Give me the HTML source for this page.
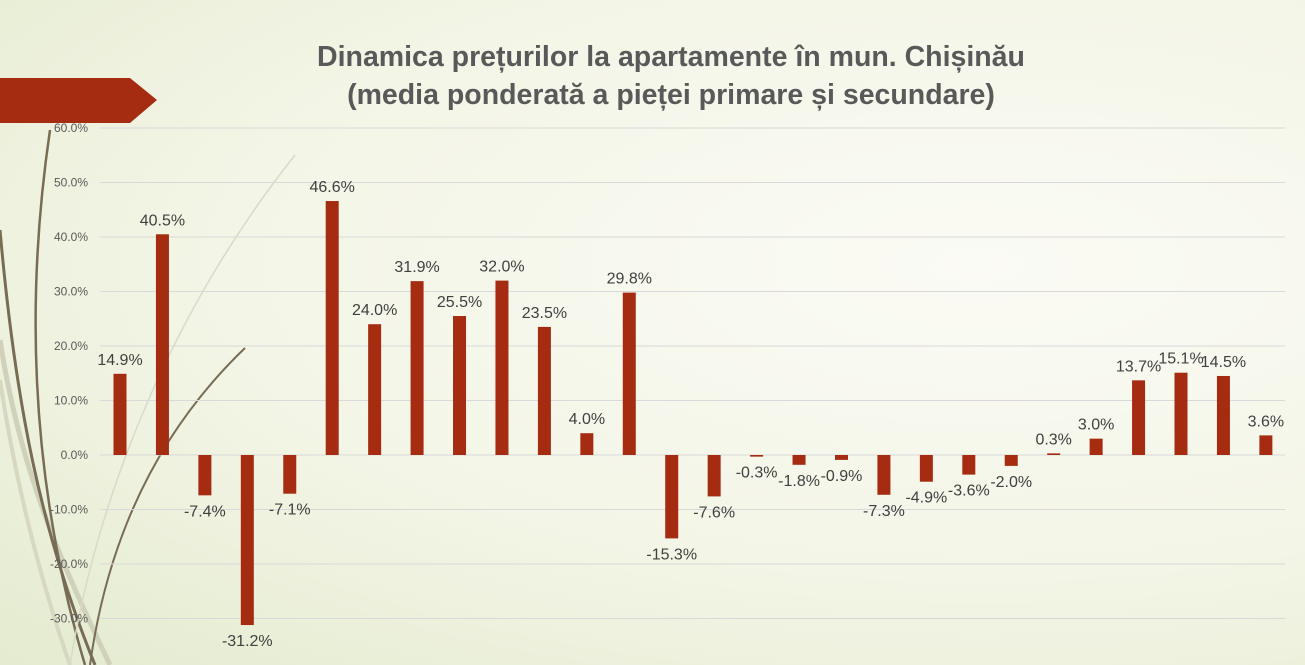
<!DOCTYPE html>
<html><head><meta charset="utf-8">
<style>
body{margin:0;width:1305px;height:665px;overflow:hidden;font-family:"Liberation Sans",sans-serif;}
#bg{position:absolute;left:0;top:0;width:1305px;height:665px;background:radial-gradient(ellipse at 75% 40%,#fbfbf5 0%,#f3f5e6 55%,#e4ebcf 100%);}
</style></head><body>
<div id="bg"></div>
<svg id="chart" width="1305" height="665" style="position:absolute;left:0;top:0">
<g fill="none">
<path d="M0,340 C20,470 60,560 110,665" stroke="#cfd1b8" stroke-width="5"/>
<path d="M0,380 C15,480 40,580 70,665" stroke="#d6d8c0" stroke-width="4"/>
<path d="M50,130 C25,300 30,480 85,665" stroke="#786c55" stroke-width="2.5"/>
<path d="M0,230 C15,400 40,530 95,665" stroke="#786c55" stroke-width="3"/>
<path d="M90,665 C110,520 170,420 245,348" stroke="#786c55" stroke-width="2"/>
<path d="M70,665 C100,480 180,300 295,155" stroke="#d9dac8" stroke-width="1.5"/>
</g>
<polygon points="0,78 130,78 157,100 130,123 0,123" fill="#a52c11"/>
<text x="671" y="66" text-anchor="middle" font-size="28.5" font-weight="bold" fill="#595959">Dinamica prețurilor la apartamente în mun. Chișinău</text>
<text x="671" y="104" text-anchor="middle" font-size="28.5" font-weight="bold" fill="#595959">(media ponderată a pieței primare și secundare)</text>
<g id="grid"></g><g id="bars"></g>
</svg>
<script>
const categories=["P1","P2","P3","P4","P5","P6","P7","P8","P9","P10","P11","P12","P13","P14","P15","P16","P17","P18","P19","P20","P21","P22","P23","P24","P25","P26","P27","P28"];
const values=[14.9,40.5,-7.4,-31.2,-7.1,46.6,24.0,31.9,25.5,32.0,23.5,4.0,29.8,-15.3,-7.6,-0.3,-1.8,-0.9,-7.3,-4.9,-3.6,-2.0,0.3,3.0,13.7,15.1,14.5,3.6];
const ticks=[60,50,40,30,20,10,0,-10,-20,-30];
const NS="http://www.w3.org/2000/svg";
const y=v=>455-v*5.45;
const x=i=>120+i*42.44;
const grid=document.getElementById('grid'),bars=document.getElementById('bars');
function mk(t,a,p){const e=document.createElementNS(NS,t);for(const k in a)e.setAttribute(k,a[k]);p.appendChild(e);return e;}
ticks.forEach(t=>{
 const l=mk('line',{x1:100,x2:1285,y1:y(t),y2:y(t),stroke:'#d9d9d9','stroke-width':1},grid);
 
 
 const tx=mk('text',{x:88,y:y(t)+4,'text-anchor':'end','font-size':12,fill:'#595959'},grid);
 tx.textContent=t.toFixed(1)+'%';
 
 
});
values.forEach((v,i)=>{
 const r=mk('rect',{x:x(i)-6.5,width:13,y:Math.min(y(v),y(0)),height:Math.abs(y(v)-y(0)),fill:'#a52c11'},bars);
 
 
 const ly=v>=0?y(v)-9:y(v)+21;
 const t=mk('text',{x:x(i),y:ly,'text-anchor':'middle','font-size':16,fill:'#404040'},bars);
 t.textContent=v.toFixed(1)+'%';
 
 
});
</script>
</body></html>
